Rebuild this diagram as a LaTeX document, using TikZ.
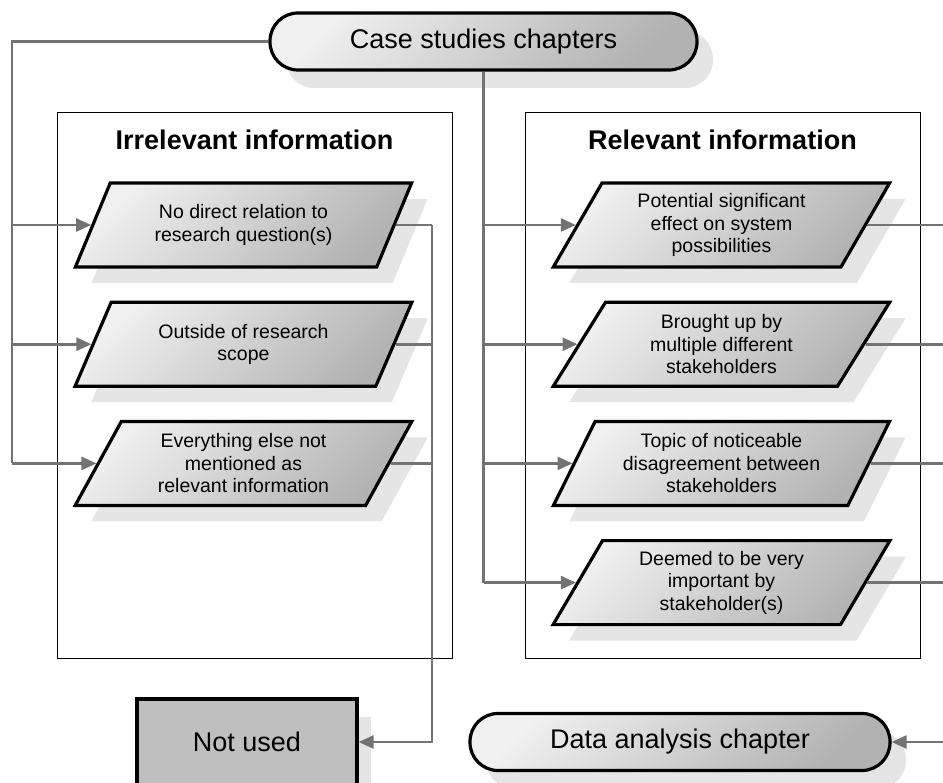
\documentclass[tikz,border=0pt]{standalone}
\usepackage{fontspec}
\setmainfont{Liberation Sans}
\usetikzlibrary{arrows.meta, positioning, shapes.geometric, shadows}

\begin{document}
\begin{tikzpicture}[x=1pt, y=-1pt, >={Triangle[length=15pt, width=13pt]},
		termbox/.style={draw, line width=3.2pt, rounded corners=28pt, minimum width=427pt, minimum height=57pt,
			top color=black!6, bottom color=black!30, shading angle=45,
			drop shadow={shadow xshift=16pt, shadow yshift=-18pt, fill=black!10, opacity=1},
			font=\fontsize{27}{32}\selectfont},
		infobox/.style={draw, line width=3.2pt, trapezium, trapezium left angle=63, trapezium right angle=117,
			trapezium stretches=true, minimum width=337pt, minimum height=84pt, align=center,
			top color=black!6, bottom color=black!30, shading angle=45,
			drop shadow={shadow xshift=16pt, shadow yshift=-16pt, fill=black!10, opacity=1},
			font=\fontsize{19.5}{22.5}\selectfont},
		endbox/.style={draw, line width=3.2pt, fill=black!25, minimum width=220pt, minimum height=86pt,
			drop shadow={shadow xshift=14pt, shadow yshift=-18pt, fill=black!10, opacity=1},
			font=\fontsize{27}{32}\selectfont},
		panel/.style={draw, line width=0.8pt, minimum width=395pt, minimum height=546pt},
		paneltitle/.style={font=\bfseries\fontsize{27}{32}\selectfont},
		link/.style={draw=black!55, line width=2.6pt}]
		
		\useasboundingbox (0,0) rectangle (943,783);
		
		% Kasten links und rechts
		\node [panel] (irrpanel) at (254.5,385) {};
		\node [panel] (relpanel) at (722.5,385) {};
		\node [paneltitle] (irrtitle) at (254.5,140) {Irrelevant information};
		\node [paneltitle] (reltitle) at (722.5,140) {Relevant information};
		
		% Kapitel oben
		\node [termbox] (cases) at (483.5,41.5) {Case studies chapters};
		
		% Irrelevante Informationen
		\node [infobox] (irr1) at (243.5,225) {No direct relation to\\research question(s)};
		\node [infobox, below=32pt of irr1] (irr2) {Outside of research\\scope};
		\node [infobox, below=32pt of irr2] (irr3) {Everything else not\\mentioned as\\relevant information};
		
		% Relevante Informationen
		\node [infobox] (rel1) at (721.5,225) {Potential significant\\effect on system\\possibilities};
		\node [infobox, below=32pt of rel1] (rel2) {Brought up by\\multiple different\\stakeholders};
		\node [infobox, below=32pt of rel2] (rel3) {Topic of noticeable\\disagreement between\\stakeholders};
		\node [infobox, below=32pt of rel3] (rel4) {Deemed to be very\\important by\\stakeholder(s)};
		
		% Unten
		\node [endbox] (notused) at (247,742) {Not used};
		\node [termbox, minimum width=420pt] (analysis) at (680,742) {Data analysis chapter};
		
		% Hilfspunkte
		\coordinate (leftbus) at (12,41.5);
		\coordinate (outbus) at (432,225);
		\coordinate (rightend) at (943,225);
		
		% Verteilung von oben
		\draw [link] (cases.west) -- (leftbus) -- (leftbus |- irr3.west);
		\foreach \n in {irr1,irr2,irr3}
			\draw [link, ->] (leftbus |- \n.west) -- (\n.west);
		\draw [link] (cases.south) -- (cases.south |- rel4.west);
		\foreach \n in {rel1,rel2,rel3,rel4}
			\draw [link, ->] (cases.south |- \n.west) -- (\n.west);
		
		% Ausgaenge
		\foreach \n in {irr1,irr2,irr3}
			\draw [link] (\n.east) -- (outbus |- \n.east);
		\draw [link, ->] (outbus) |- (notused.east);
		\foreach \n in {rel1,rel2,rel3,rel4}
			\draw [link] (\n.east) -- (rightend |- \n.east);
		\draw [link, ->] (rightend |- analysis.east) -- (analysis.east);
		
	\end{tikzpicture}
\end{document}
